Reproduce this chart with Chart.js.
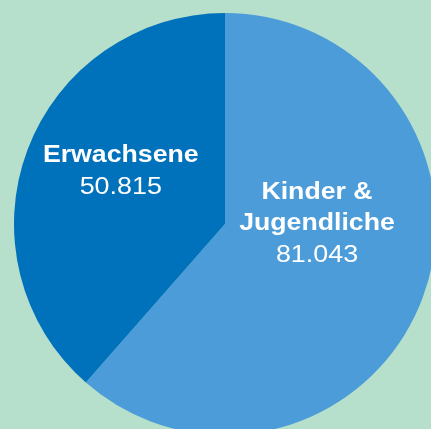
<!DOCTYPE html>
<html>
<head>
<meta charset="utf-8">
<script src="https://cdn.jsdelivr.net/npm/chart.js@4"></script>
<style>
  html, body { margin: 0; padding: 0; background: #b6dfcc; overflow: hidden; }
  #wrap { position: absolute; left: 0; top: 0; width: 440px; height: 440px; }
</style>
</head>
<body>
<div id="wrap"><canvas id="pieChart"></canvas></div>
<script>
var labels = ["Kinder & Jugendliche", "Erwachsene"];
var values = [81043, 50815];
var valueLabels = ["81.043", "50.815"];
var colors = ["#4c9cd9", "#0071bb"];

// label lines per slice, offsets relative to centre as fractions of the radius
var labelLines = [["Kinder &", "Jugendliche"], ["Erwachsene"]];
var labelAnchor = [[0.436, -0.12], [-0.494, -0.293]];

var sliceLabels = {
  id: "sliceLabels",
  afterDatasetsDraw: function (chart) {
    var ctx = chart.ctx;
    var arc = chart.getDatasetMeta(0).data[0];
    var cx = arc.x, cy = arc.y, r = arc.outerRadius;
    ctx.save();
    ctx.fillStyle = "#ffffff";
    ctx.textAlign = "center";
    ctx.textBaseline = "alphabetic";
    for (var i = 0; i < labels.length; i++) {
      var x = cx + labelAnchor[i][0] * r;
      var y = cy + labelAnchor[i][1] * r;
      var lines = labelLines[i];
      for (var j = 0; j < lines.length; j++) {
        ctx.save();
        ctx.translate(x, y);
        ctx.scale(1.16, 1);
        ctx.font = "bold 23px 'Liberation Sans', Arial, sans-serif";
        ctx.fillText(lines[j], 0, 0);
        ctx.restore();
        y += 31;
      }
      ctx.save();
      ctx.translate(x, y + 1);
      ctx.scale(1.12, 1);
      ctx.font = "24px 'Liberation Sans', Arial, sans-serif";
      ctx.fillText(valueLabels[i], 0, 0);
      ctx.restore();
    }
    ctx.restore();
  }
};

var ctx = document.getElementById("pieChart").getContext("2d");
var myChart = new Chart(ctx, {
  type: "pie",
  data: {
    labels: labels,
    datasets: [
      {
        data: values,
        backgroundColor: colors,
        borderWidth: 0,
      },
    ],
  },
  options: {
    responsive: true,
    maintainAspectRatio: false,
    animation: false,
    layout: {
      padding: { left: 14, right: 4, top: 13, bottom: 5 },
    },
    plugins: {
      legend: { display: false },
      tooltip: { enabled: false },
    },
  },
  plugins: [sliceLabels],
});
</script>
</body>
</html>
